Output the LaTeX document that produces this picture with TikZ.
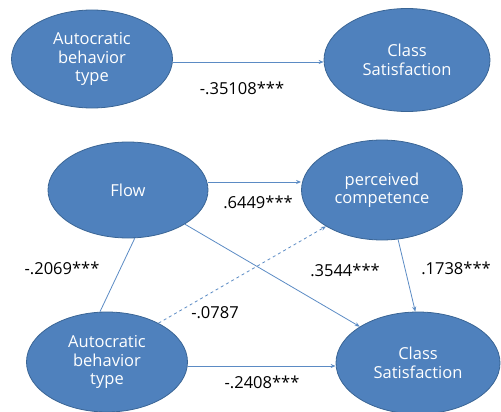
\documentclass[tikz,border=0pt]{standalone}
\usepackage{fontspec}
\setmainfont{Open Sans}
\usetikzlibrary{shapes.geometric,arrows.meta}
\definecolor{nodeblue}{HTML}{4F81BD}
\definecolor{edgeblue}{HTML}{3A6595}
\definecolor{lineblue}{HTML}{5B8BC4}
\begin{document}
\begin{tikzpicture}[x=1pt,y=-1pt,
  ell/.style={ellipse, fill=nodeblue, draw=edgeblue, line width=0.8pt, text=white, align=center, inner sep=0pt, font=\fontsize{16.5}{18.5}\selectfont},
  conn/.style={draw=lineblue, line width=0.8pt, -{Stealth[length=5pt,width=4pt]}},
  lbl/.style={font=\fontsize{16.5}{18}\selectfont, text=black}]
\useasboundingbox (0,0) rectangle (501,412);
\node[ell, minimum width=161pt, minimum height=98pt] (a1) at (92,59) {Autocratic\\behavior\\type};
\node[ell, minimum width=166pt, minimum height=103pt] (c1) at (407,60) {Class\\Satisfaction};
\node[ell, minimum width=160pt, minimum height=96pt] (f) at (128,190) {Flow};
\node[ell, minimum width=161pt, minimum height=100pt] (p) at (382,190) {perceived\\competence};
\node[ell, minimum width=161pt, minimum height=100pt] (a2) at (107,362) {Autocratic\\behavior\\type};
\node[ell, minimum width=164pt, minimum height=102pt] (c2) at (418,363) {Class\\Satisfaction};

\draw[conn] (a1.east |- 0,62) -- (c1.west |- 0,62);
\node[lbl] (l1) at (242,88) {-.35108***};

\draw[conn] (f.east |- 0,182) -- (p.west |- 0,182);
\node[lbl] (l2) at (258,202) {.6449***};

\draw[draw=lineblue, line width=0.8pt] (a2.98) -- (f.-82);
\node[lbl] (l3) at (62,268) {-.2069***};

\draw[conn, dashed] (a2.37) -- (p.213);
\node[lbl] (l4) at (215,313) {-.0787};

\draw[conn] (f.-31) -- (c2.148);
\node[lbl] (l5) at (345,270) {.3544***};

\draw[conn] (p.-72) -- (c2.93);
\node[lbl] (l6) at (456,268) {.1738***};

\draw[conn] (a2.east |- 0,366) -- (c2.west |- 0,366);
\node[lbl] (l7) at (262,382) {-.2408***};
\end{tikzpicture}
\end{document}
